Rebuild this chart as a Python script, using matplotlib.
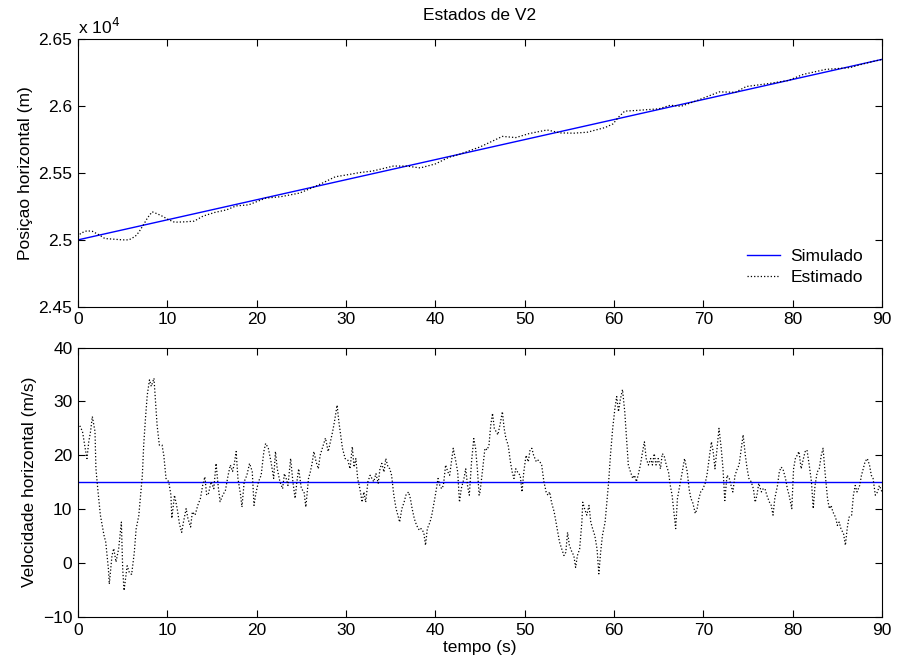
import matplotlib
matplotlib.use("Agg")
import matplotlib.pyplot as plt
from matplotlib.ticker import FuncFormatter

plt.rcParams["font.family"] = ["Liberation Sans", "DejaVu Sans"]
plt.rcParams["font.size"] = 12.5

# simulated trajectory (straight line, end points)
t_sim = [0, 90]
pos_sim = [25000, 26350]
vel_sim = [15, 15]

# estimated position (m)
t_pos = [0.0, 0.3, 1.0, 1.6, 2.4, 3.0, 4.0, 5.0, 5.7, 6.4, 6.8, 7.3, 7.8, 8.3, 8.9,
         9.5, 10.1, 10.8, 12.0, 13.0, 14.0, 15.3, 16.6, 17.7, 19.1, 21.0, 22.7, 24.8,
         26.5, 27.4, 28.8, 30.0, 31.5, 33.0, 35.3, 36.8, 38.3, 40.0, 41.5, 42.7, 45.0,
         46.5, 47.5, 49.0, 50.5, 52.5, 54.0, 55.5, 57.0, 59.0, 59.9, 60.5, 61.2, 62.5,
         65.0, 66.3, 67.5, 69.0, 71.8, 73.6, 74.8, 77.2, 79.5, 81.2, 83.7, 86.4, 88.0,
         90.0]
pos_est = [25020, 25050, 25068, 25064, 25036, 25010, 25005, 25000, 25000, 25026, 25057,
           25110, 25167, 25210, 25194, 25175, 25152, 25132, 25135, 25140, 25178, 25205,
           25224, 25254, 25262, 25312, 25323, 25350, 25398, 25426, 25472, 25485, 25503,
           25515, 25552, 25552, 25538, 25568, 25617, 25640, 25695, 25742, 25774, 25765,
           25795, 25822, 25800, 25798, 25805, 25840, 25868, 25918, 25963, 25968, 25980,
           26007, 25999, 26035, 26107, 26104, 26147, 26168, 26192, 26238, 26275, 26288,
           26318, 26350]

# estimated velocity (m/s)
t_vel = [0.0, 0.25, 0.5, 0.8, 1.0, 1.2, 1.4, 1.6, 1.9, 2.0, 2.2, 2.5, 2.9, 3.1, 3.4, 3.5,
         3.8, 4.0, 4.25, 4.55, 4.85, 5.0, 5.15, 5.5, 5.75, 6.0, 6.3, 6.5, 6.8, 7.0, 7.2,
         7.35, 7.55, 7.75, 8.0, 8.2, 8.5, 8.65, 8.85, 9.1, 9.4, 9.6, 9.85, 10.15, 10.4,
         10.5, 10.8, 11.1, 11.35, 11.6, 11.8, 12.1, 12.3, 12.6, 12.8, 13.1, 13.4, 13.7,
         13.95, 14.2, 14.4, 14.6, 14.9, 15.2, 15.45, 15.7, 15.9, 16.2, 16.5, 16.8, 17.05,
         17.3, 17.5, 17.7, 17.9, 18.2, 18.35, 18.6, 18.9, 19.2, 19.5, 19.7, 19.9, 20.2,
         20.5, 20.8, 21.0, 21.3, 21.6, 21.9, 22.1, 22.3, 22.6, 22.9, 23.1, 23.3, 23.5,
         23.8, 24.05, 24.3, 24.5, 24.7, 25.0, 25.3, 25.5, 25.8, 26.0, 26.2, 26.4, 26.65,
         26.9, 27.1, 27.4, 27.7, 28.0, 28.25, 28.5, 28.7, 29.0, 29.2, 29.4, 29.6, 29.9,
         30.2, 30.45, 30.7, 30.9, 31.1, 31.3, 31.55, 31.8, 32.0, 32.2, 32.45, 32.7, 32.9,
         33.1, 33.35, 33.6, 33.8, 34.0, 34.25, 34.45, 34.7, 34.9, 35.1, 35.35, 35.6,
         35.8, 36.0, 36.25, 36.5, 36.7, 37.0, 37.2, 37.4, 37.65, 37.9, 38.2, 38.4, 38.7,
         38.9, 39.1, 39.4, 39.6, 39.8, 40.0, 40.3, 40.5, 40.7, 40.9, 41.15, 41.4, 41.6,
         41.8, 42.0, 42.3, 42.5, 42.7, 42.9, 43.2, 43.4, 43.6, 43.8, 44.05, 44.3, 44.5,
         44.7, 44.9, 45.0, 45.3, 45.55, 45.8, 46.0, 46.2, 46.4, 46.6, 46.8, 47.0, 47.3,
         47.5, 47.7, 47.9, 48.15, 48.4, 48.6, 48.8, 49.0, 49.3, 49.5, 49.7, 49.9, 50.15,
         50.4, 50.6, 50.8, 51.0, 51.3, 51.5, 51.7, 51.9, 52.15, 52.4, 52.6, 52.8, 53.0,
         53.3, 53.5, 53.7, 53.9, 54.15, 54.4, 54.6, 54.8, 55.0, 55.3, 55.5, 55.7, 55.9,
         56.15, 56.4, 56.5, 56.7, 56.95, 57.2, 57.4, 57.6, 57.85, 58.1, 58.3, 58.5, 58.7,
         59.0, 59.2, 59.4, 59.6, 59.85, 60.1, 60.3, 60.5, 60.7, 60.95, 61.2, 61.4, 61.6,
         61.85, 62.1, 62.3, 62.5, 62.7, 62.95, 63.2, 63.4, 63.6, 63.85, 64.1, 64.3, 64.5,
         64.7, 64.95, 65.2, 65.4, 65.6, 65.85, 66.1, 66.3, 66.5, 66.7, 66.9, 67.1, 67.3,
         67.5, 67.7, 67.9, 68.2, 68.4, 68.6, 68.8, 69.1, 69.3, 69.5, 69.7, 69.96, 70.2,
         70.4, 70.6, 70.9, 71.1, 71.3, 71.5, 71.75, 72.0, 72.2, 72.4, 72.65, 72.9, 73.1,
         73.3, 73.55, 73.8, 74.0, 74.2, 74.45, 74.7, 74.9, 75.1, 75.35, 75.6, 75.8, 76.0,
         76.2, 76.5, 76.7, 76.9, 77.1, 77.4, 77.6, 77.8, 78.0, 78.3, 78.5, 78.7, 78.9,
         79.2, 79.4, 79.6, 79.9, 80.1, 80.3, 80.5, 80.7, 80.95, 81.2, 81.4, 81.6, 81.85,
         82.1, 82.3, 82.5, 82.75, 82.97, 83.2, 83.4, 83.65, 83.9, 84.1, 84.3, 84.5, 84.8,
         85.0, 85.2, 85.4, 85.7, 85.9, 86.1, 86.3, 86.6, 86.8, 87.0, 87.2, 87.5, 87.7,
         87.9, 88.1, 88.35, 88.6, 88.8, 89.0, 89.25, 89.5, 89.7, 90.0]
vel_est = [26.0, 25.3, 24.4, 21.3, 19.4, 22.5, 24.4, 27.2, 24.4, 17.6, 13.9, 8.9, 5.2,
           3.9, -1.1, -3.9, 1.4, 2.7, 0.2, 2.7, 7.6, -1.1, -5.1, -0.5, -1.8, -2.1, 2.0,
           6.3, 8.8, 12.6, 16.3, 21.9, 26.9, 31.2, 34.0, 32.8, 34.3, 30.6, 25.6, 21.9,
           21.9, 20.0, 15.7, 15.1, 12.6, 8.3, 12.6, 10.1, 7.3, 5.7, 7.6, 10.1, 8.3, 6.7,
           9.5, 8.9, 10.7, 12.0, 14.4, 16.0, 12.6, 12.9, 15.1, 13.8, 18.5, 14.1, 11.4,
           12.6, 13.5, 16.3, 18.2, 17.0, 18.5, 20.7, 15.7, 12.6, 10.4, 15.1, 16.3, 18.5,
           17.0, 10.7, 12.9, 15.1, 16.3, 20.7, 22.2, 21.3, 18.8, 15.7, 20.7, 17.5, 15.1,
           13.8, 16.6, 15.7, 14.4, 19.4, 15.1, 12.0, 15.1, 17.5, 13.8, 13.2, 10.4, 15.7,
           16.9, 18.5, 20.7, 18.8, 17.5, 20.0, 21.6, 23.2, 20.7, 22.5, 24.4, 26.2, 29.3,
           26.2, 23.8, 21.3, 19.4, 19.1, 17.5, 21.6, 17.8, 19.4, 15.7, 13.8, 11.3, 13.2,
           11.3, 15.1, 16.3, 15.7, 15.1, 16.6, 14.8, 17.5, 18.5, 16.9, 19.4, 17.8, 17.5,
           16.3, 12.6, 10.1, 8.9, 7.6, 10.1, 11.3, 12.6, 13.2, 12.0, 10.1, 8.2, 7.0, 6.1,
           6.4, 5.7, 3.3, 6.4, 7.6, 8.9, 10.7, 12.6, 15.7, 14.4, 13.8, 14.4, 18.2, 16.9,
           16.3, 18.8, 21.3, 18.8, 16.9, 11.3, 13.8, 15.7, 17.5, 14.4, 12.6, 18.8, 23.1,
           21.3, 17.5, 12.6, 13.2, 17.5, 21.3, 21.0, 21.9, 25.6, 27.8, 25.0, 24.4, 23.8,
           26.2, 28.1, 25.0, 23.1, 21.9, 18.8, 16.9, 15.7, 17.5, 16.6, 16.3, 13.2, 16.9,
           20.0, 18.8, 21.0, 21.3, 20.0, 18.8, 19.1, 18.8, 18.2, 15.1, 13.2, 12.6, 13.2,
           11.3, 9.5, 7.6, 5.7, 3.9, 2.6, 1.4, 2.0, 5.7, 3.3, 2.0, 1.4, -0.8, 1.4, 2.6,
           7.6, 11.3, 10.1, 8.9, 10.7, 7.6, 6.4, 5.1, 2.6, -2.0, 2.0, 5.1, 7.6, 11.3, 15.1,
           20.0, 25.0, 28.7, 30.9, 28.1, 30.3, 32.2, 28.1, 23.1, 18.2, 16.9, 15.7, 16.3,
           15.1, 16.3, 18.2, 20.7, 22.5, 19.4, 18.2, 19.4, 18.2, 20.3, 18.2, 19.4, 17.5,
           20.3, 20.0, 18.2, 16.9, 14.4, 12.6, 9.5, 6.4, 12.0, 13.8, 15.7, 17.5, 19.4,
           16.9, 13.8, 12.0, 11.3, 9.2, 10.1, 12.0, 13.2, 13.8, 14.8, 16.3, 18.8, 22.5,
           20.7, 17.5, 20.7, 25.0, 21.3, 17.5, 11.6, 16.3, 15.7, 14.4, 13.2, 16.3, 17.5,
           18.2, 20.7, 23.8, 20.0, 17.5, 15.7, 15.1, 13.8, 11.3, 12.6, 14.8, 13.2, 13.8,
           13.8, 12.6, 11.3, 10.7, 8.9, 12.0, 14.4, 16.9, 17.8, 17.5, 15.7, 13.8, 12.6,
           10.1, 17.5, 19.4, 20.0, 20.7, 17.5, 19.4, 20.7, 21.0, 18.2, 15.1, 10.1, 14.4,
           16.9, 17.5, 20.0, 21.3, 16.3, 12.0, 10.1, 10.7, 9.5, 8.5, 7.0, 7.6, 6.4, 5.4,
           3.3, 6.4, 8.5, 8.9, 12.6, 14.4, 13.2, 14.4, 16.3, 17.5, 18.8, 19.4, 18.2, 16.3,
           15.7, 12.6, 13.2, 14.4, 13.2]

x_ticks = [0, 10, 20, 30, 40, 50, 60, 70, 80, 90]
pos_ticks = [24500, 25000, 25500, 26000, 26500]
vel_ticks = [-10, 0, 10, 20, 30, 40]

fig = plt.figure(figsize=(8.98, 6.71), dpi=100)
ax1 = fig.add_axes([0.0869, 0.5429, 0.8953, 0.3985])
ax2 = fig.add_axes([0.0869, 0.0805, 0.8953, 0.4016])

ax1.plot(t_sim, pos_sim, color="#0000ff", lw=1.0, label="Simulado")
ax1.plot(t_pos, pos_est, color="black", ls=":", lw=0.9, label="Estimado")
ax1.set_xlim(0, 90)
ax1.set_ylim(24500, 26500)
ax1.set_xticks(x_ticks)
ax1.set_yticks(pos_ticks)
ax1.yaxis.set_major_formatter(FuncFormatter(lambda v, p: f"{v / 1e4:g}"))
ax1.set_ylabel("Posiçao horizontal (m)")
ax1.set_title("Estados de V2", fontsize=12.5, pad=14)
ax1.text(0, 1.01, "x 10$^4$", transform=ax1.transAxes, ha="left", va="bottom",
         fontsize=12.5)
ax1.legend(loc="lower right", bbox_to_anchor=(0.994, 0.03), frameon=False,
           handlelength=1.9, handletextpad=0.6, borderaxespad=0.4,
           labelspacing=0.3, fontsize=12.5)

ax2.plot(t_sim, vel_sim, color="#0000ff", lw=1.0)
ax2.plot(t_vel, vel_est, color="black", ls=":", lw=0.9)
ax2.set_xlim(0, 90)
ax2.set_ylim(-10, 40)
ax2.set_xticks(x_ticks)
ax2.set_yticks(vel_ticks)
ax2.set_xlabel("tempo (s)", labelpad=2)
ax2.set_ylabel("Velocidade horizontal (m/s)")

for ax in (ax1, ax2):
    ax.tick_params(direction="in", length=5, width=0.8, top=True, right=True, pad=4)
    for s in ax.spines.values():
        s.set_linewidth(0.8)

fig.savefig("out.png", dpi=100)
